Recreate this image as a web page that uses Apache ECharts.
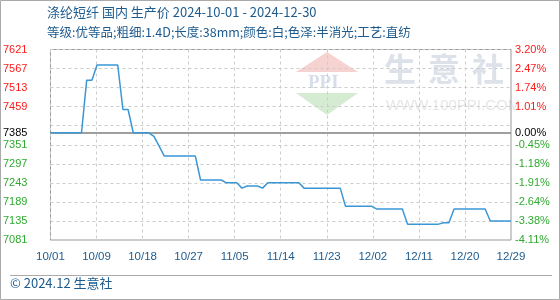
<!DOCTYPE html>
<html><head><meta charset="utf-8">
<script src="https://cdn.jsdelivr.net/npm/echarts@6/dist/echarts.min.js"></script>
<style>html,body{margin:0;padding:0;background:#fff}#c{width:560px;height:300px}</style>
</head><body><div id="c"></div>
<script>
// Daily prices (yuan/ton), index 0 = 2024-10-01 ... index 89 = 2024-12-29
const prices = [
  7385,7385,7385,7385,7385,7385,7385,7534,7534,7577,
  7577,7577,7577,7577,7451,7451,7385,7385,7385,7385,
  7375,7347,7319,7319,7319,7319,7319,7319,7319,7251,
  7251,7251,7251,7251,7243,7243,7243,7228,7234,7234,
  7234,7228,7243,7243,7243,7243,7243,7243,7243,7228,
  7228,7228,7228,7228,7228,7228,7228,7177,7177,7177,
  7177,7177,7177,7169,7169,7169,7169,7169,7169,7126,
  7126,7126,7126,7126,7126,7126,7130,7130,7169,7169,
  7169,7169,7169,7169,7169,7135,7135,7135,7135,7135
];
const xTickLabels = ['10/01','10/09','10/18','10/27','11/05','11/14','11/23','12/02','12/11','12/20','12/29'];
const leftTickLabels = ['7081','7135','7189','7243','7297','7351','','7459','7513','7567','7621'];
const rightTickLabels = ['-4.11%','-3.38%','-2.64%','-1.91%','-1.18%','-0.45%','','1.01%','1.74%','2.47%','3.20%'];
const basePrice = 7385;
const basePctLabel = '0.00%';
const titleText = '涤纶短纤 国内 生产价 2024-10-01 - 2024-12-30';
const subText = '等级:优等品;粗细:1.4D;长度:38mm;颜色:白;色泽:半消光;工艺:直纺';
const footText = '© 2024.12 生意社';

const yMin = 7081, yMax = 7621, yStep = 54;
const xMin = 0, xMax = 89, xStep = 8.9;
const BLUE = '#1d5b8e', RED = '#ff1a1a', GREEN = '#2faa2f';
const FONT = '"Liberation Sans", Arial, sans-serif';
const CJK = '"Noto Sans CJK SC", "Liberation Sans", sans-serif';

function tickIdx(v){ return Math.round((v - yMin) / yStep); }
function colorFor(v){ return v > basePrice ? RED : (v < basePrice ? GREEN : '#000'); }

const chart = echarts.init(document.getElementById('c'), null, {renderer:'canvas'});
chart.setOption({
  animation:false,
  backgroundColor:'#fff',
  grid:{left:50, right:49, top:49.5, bottom:60, show:true, borderColor:'#999', borderWidth:1},
  xAxis:{
    type:'value', min:xMin, max:xMax, interval:xStep,
    axisLine:{show:false}, axisTick:{show:false},
    splitLine:{show:true, lineStyle:{color:'#ccc', type:[3,3], width:1}},
    axisLabel:{show:true, showMinLabel:true, showMaxLabel:true, margin:11, color:BLUE, fontSize:11.5, fontFamily:FONT,
      formatter:function(v){ return xTickLabels[Math.round(v / xStep)] || ''; }}
  },
  yAxis:[{
    type:'value', min:yMin, max:yMax, interval:yStep, position:'left',
    axisLine:{show:false}, axisTick:{show:false},
    splitLine:{show:true, lineStyle:{color:'#ccc', type:[3,3], width:1}},
    axisLabel:{margin:23, fontSize:11, fontFamily:FONT, showMinLabel:true, showMaxLabel:true,
      formatter:function(v){ return leftTickLabels[tickIdx(v)] || ''; },
      color:function(v){ return colorFor(Number(v)); }}
  },{
    type:'value', min:yMin, max:yMax, interval:yStep, position:'right',
    axisLine:{show:false}, axisTick:{show:false}, splitLine:{show:false},
    axisLabel:{margin:4, fontSize:11, fontFamily:FONT, showMinLabel:true, showMaxLabel:true,
      formatter:function(v){ return rightTickLabels[tickIdx(v)] || ''; },
      color:function(v){ return colorFor(Number(v)); }}
  }],
  series:[{
    type:'line', yAxisIndex:0, showSymbol:false, symbol:'none',
    lineStyle:{color:'#3a97d6', width:1.5},
    data:prices.map(function(p,i){ return [i,p]; }),
    markLine:{
      silent:true, symbol:'none', animation:false,
      lineStyle:{color:'#999', type:'solid', width:1.5},
      data:[
        {yAxis:basePrice, label:{show:true, position:'start', distance:23, formatter:String(basePrice), color:'#000', fontSize:11, fontFamily:FONT}},
        {yAxis:basePrice, label:{show:true, position:'end', distance:4, formatter:basePctLabel, color:'#000', fontSize:11, fontFamily:FONT}}
      ]
    },
    z:5
  }],
  graphic:[
    {type:'rect', z:-10, silent:true, shape:{x:0.5,y:0.5,width:559,height:299}, style:{fill:'none', stroke:'#aaa', lineWidth:1}},
    // watermark
    {type:'polygon', z:-5, silent:true, shape:{points:[[327,52],[358,72],[296,72]]}, style:{fill:'#f6d2d0'}},
    {type:'polygon', z:-5, silent:true, shape:{points:[[296,93],[358,93],[327,115]]}, style:{fill:'#d5ecd3'}},
    {type:'text', z:-5, silent:true, left:308, top:74, style:{text:'PPI', font:'bold 19px "Liberation Serif", serif', fill:'#d7deea'}},
    {type:'text', z:-5, silent:true, left:384, top:53, style:{text:'生', font:'bold 32px "Noto Sans CJK SC", sans-serif', fill:'#dde2ea'}},
    {type:'text', z:-5, silent:true, left:428, top:53, style:{text:'意', font:'bold 32px "Noto Sans CJK SC", sans-serif', fill:'#dde2ea'}},
    {type:'text', z:-5, silent:true, left:472, top:53, style:{text:'社', font:'bold 32px "Noto Sans CJK SC", sans-serif', fill:'#dde2ea'}},
    {type:'text', z:-5, silent:true, left:386, top:98, style:{text:'WWW.100PPI.COM', font:'15px "Liberation Sans", sans-serif', fill:'#e6e6e6'}},
    // titles & footer
    {type:'text', left:47, top:6, style:{text:titleText, font:'13px '+CJK, fill:BLUE}},
    {type:'text', left:47, top:26, style:{text:subText, font:'12.5px '+CJK, fill:BLUE}},
    {type:'line', shape:{x1:10,y1:275.5,x2:552,y2:275.5}, style:{stroke:'#aaa', lineWidth:1}},
    {type:'text', left:10, top:277, style:{text:footText, font:'13px '+CJK, fill:BLUE}}
  ]
});
</script></body></html>
